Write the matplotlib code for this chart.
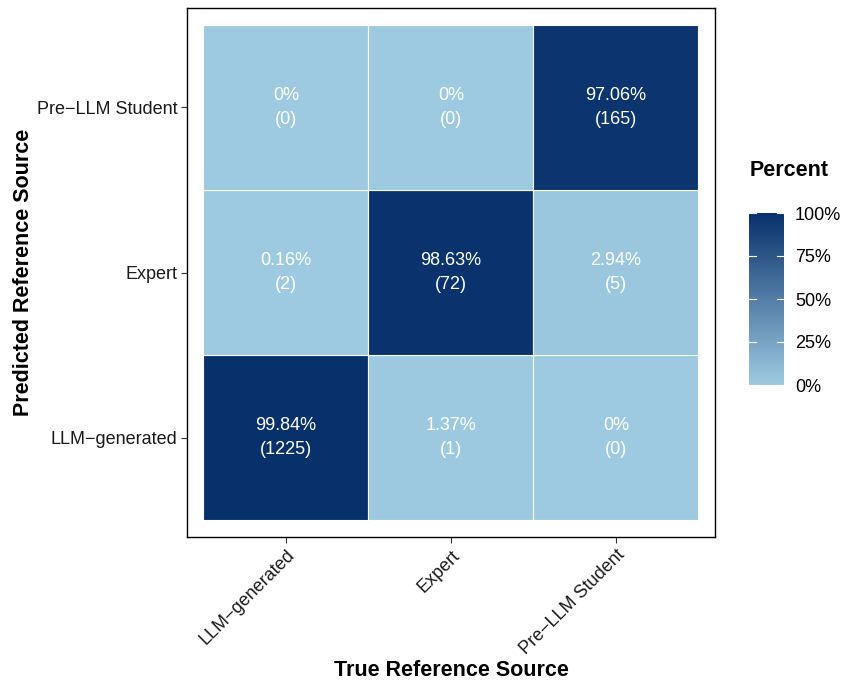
import numpy as np
import matplotlib
matplotlib.use("agg")
import matplotlib.pyplot as plt
from matplotlib.colors import LinearSegmentedColormap, Normalize
from matplotlib.colorbar import ColorbarBase

plt.rcParams["font.family"] = ["Liberation Sans", "DejaVu Sans"]

true_labels = ["LLM\u2212generated", "Expert", "Pre\u2212LLM Student"]
pred_labels = ["LLM\u2212generated", "Expert", "Pre\u2212LLM Student"]

# counts[pred][true]
counts_llm_pred = [1225, 1, 0]
counts_expert_pred = [2, 72, 5]
counts_pre_pred = [0, 0, 165]

legend_ticks = [0, 25, 50, 75, 100]

counts = np.array([counts_llm_pred, counts_expert_pred, counts_pre_pred])
col_totals = counts.sum(axis=0)
percent = counts / col_totals * 100

low = "#9ECAE1"
high = "#08306B"
cmap = LinearSegmentedColormap.from_list("blues", [low, high])
norm = Normalize(0, 100)

fig = plt.figure(figsize=(8.45, 6.85), dpi=100)
W, H = 845, 685
ax = fig.add_axes([187 / W, 1 - 537 / H, (715 - 187) / W, (537 - 8) / H])

for i in range(len(pred_labels)):
    for j in range(len(true_labels)):
        p = percent[i, j]
        ax.add_patch(plt.Rectangle((j + 0.5, i + 0.5), 1, 1, facecolor=cmap(norm(p)),
                                   edgecolor="white", linewidth=0.8))
        txt = f"{p:.2f}".rstrip("0").rstrip(".") + "%"
        ax.text(j + 1, i + 1, f"{txt}\n({counts[i, j]})", ha="center", va="center",
                color="white", fontsize=13, linespacing=1.55)

ax.set_xlim(0.4, 3.6)
ax.set_ylim(0.4, 3.6)
ax.set_xticks([1, 2, 3])
ax.set_yticks([1, 2, 3])
ax.set_xticklabels(true_labels, rotation=45, ha="right", rotation_mode="anchor", fontsize=13)
ax.set_yticklabels(pred_labels, fontsize=13)
ax.tick_params(length=4, width=0.8, color="#333333", labelcolor="#1a1a1a", pad=3)
for s in ax.spines.values():
    s.set_linewidth(1.0)
    s.set_color("black")

ax.set_xlabel("True Reference Source", fontsize=15.5, fontweight="bold", labelpad=1)
ax.set_ylabel("Predicted Reference Source", fontsize=15.5, fontweight="bold", labelpad=2)

# legend
cax = fig.add_axes([749 / W, 1 - 385 / H, 35 / W, (385 - 213) / H])
cb = ColorbarBase(cax, cmap=cmap, norm=norm, orientation="vertical")
cb.outline.set_visible(False)
cb.set_ticks(legend_ticks)
cb.set_ticklabels([f"{t}%" for t in legend_ticks])
cax.tick_params(length=0, labelsize=13, pad=8)
for t in legend_ticks:
    cax.plot([0, 0.2], [t, t], color="white", lw=0.8, transform=cax.get_yaxis_transform())
    cax.plot([0.8, 1], [t, t], color="white", lw=0.8, transform=cax.get_yaxis_transform())
fig.text(750 / W, 1 - 171 / H, "Percent", fontsize=15.5, fontweight="bold", va="center", ha="left")

fig.savefig("out.png", dpi=100)
